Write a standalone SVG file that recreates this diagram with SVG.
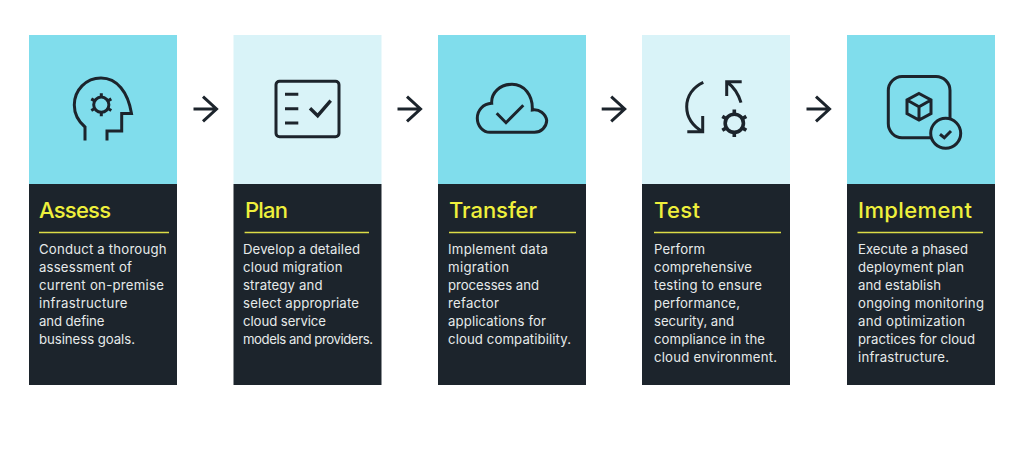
<svg xmlns="http://www.w3.org/2000/svg" width="1024" height="457" viewBox="0 0 1024 457">
<defs>
<g id="gear"><circle r="7.6" class="i"/><path class="i" d="M0-7.6V-11.5M6.6-3.8L10-5.8M6.6 3.8L10 5.8M0 7.6V11.5M-6.6 3.8L-10 5.8M-6.6-3.8L-10-5.8"/></g>
<path id="arrow" class="i" d="M0 0H23M9.5-12.3L23 0L9.5 12.3"/>
</defs>
<style>
.i{fill:none;stroke:#1c242c;stroke-width:3}
.d{fill:#1c242c}.a{fill:#80ddec}.b{fill:#d9f3f8}
.t{font:500 22px Inter,"Liberation Sans",sans-serif;fill:#eff03c}
.p{font:400 13.2px Inter,"Liberation Sans",sans-serif;fill:#e6eaea}
.r{stroke:#dcdc46;stroke-width:1.4}
</style>
<rect width="1024" height="457" fill="#fff"/>
<g id="assess">
<rect class="a" x="29" y="35" width="148" height="149"/><rect class="d" x="29" y="184" width="148" height="201"/>
<path class="i" d="M85 140.5V127C78 121 74.3 113 74.3 105C74.3 90 86 78 101 78C117 78 128 92 131.5 113.5H121.7V131H107V140.5"/>
<use href="#gear" x="101.3" y="104.7"/>
<text class="t" x="39" y="217.5" textLength="72">Assess</text><path class="r" d="M39 232.5H169"/>
<text class="p" x="39" y="254" textLength="127.5">Conduct a thorough</text>
<text class="p" x="39" y="272" textLength="93">assessment of</text>
<text class="p" x="39" y="290" textLength="125">current on-premise</text>
<text class="p" x="39" y="308" textLength="88.5">infrastructure</text>
<text class="p" x="39" y="326" textLength="65.5">and define</text>
<text class="p" x="39" y="344" textLength="96">business goals.</text>
</g>
<g id="plan">
<rect class="b" x="233.5" y="35" width="148" height="149"/><rect class="d" x="233.5" y="184" width="148" height="201"/>
<rect class="i" x="276" y="81.3" width="63" height="55.4" rx="3.5"/>
<path class="i" d="M285 94.3H298.3M285 108.7H298.3M285 123H298.3"/><path class="i" style="stroke-width:3.4" d="M310 108.3L317.7 115.7L330.7 100.7"/>
<text class="t" x="245" y="217.5" textLength="43">Plan</text><path class="r" d="M244.6 232.5H369"/>
<text class="p" x="243" y="254" textLength="117">Develop a detailed</text>
<text class="p" x="243" y="272" textLength="99.5">cloud migration</text>
<text class="p" x="243" y="290" textLength="79.5">strategy and</text>
<text class="p" x="243" y="308" textLength="116">select appropriate</text>
<text class="p" x="243" y="326" textLength="83">cloud service</text>
<text class="p" x="243" y="344" textLength="130">models and providers.</text>
</g>
<g id="transfer">
<rect class="a" x="438" y="35" width="148" height="149"/><rect class="d" x="438" y="184" width="148" height="201"/>
<path class="i" d="M490 132.3H534.5A12.2 12.2 0 0 0 546.7 120.5A12.5 12.5 0 0 0 532.3 110C533 95 524 84.3 512 84.3C500 84.3 491 93 491.7 103.3C483 104 477.3 110 477.3 118.3C477.3 126 483 132.3 490 132.3Z"/>
<path class="i" d="M496.7 113.3L506 122.7L523.3 105.3"/>
<text class="t" x="449" y="217.5" textLength="88">Transfer</text><path class="r" d="M449 232.5H576"/>
<text class="p" x="448" y="254" textLength="100">Implement data</text>
<text class="p" x="448" y="272" textLength="61">migration</text>
<text class="p" x="448" y="290" textLength="91">processes and</text>
<text class="p" x="448" y="308" textLength="51">refactor</text>
<text class="p" x="448" y="326" textLength="98">applications for</text>
<text class="p" x="448" y="344" textLength="123">cloud compatibility.</text>
</g>
<g id="test">
<rect class="b" x="642" y="35" width="148" height="149"/><rect class="d" x="642" y="184" width="148" height="201"/>
<path class="i" d="M703.3 82.3C693 87 686.7 96 686.7 106.7C686.7 117 693 126 702.7 131.7M702.7 116V131.7H687.3"/>
<path class="i" d="M741 102.7C738.5 94 734 87 726.7 81.7M726.7 96V81.7H741.7"/>
<use href="#gear" transform="translate(734.3 123.3) scale(1.2)"/>
<text class="t" x="654" y="217.5" textLength="46">Test</text><path class="r" d="M654 232.5H781"/>
<text class="p" x="654" y="254" textLength="51">Perform</text>
<text class="p" x="654" y="272" textLength="98">comprehensive</text>
<text class="p" x="654" y="290" textLength="108">testing to ensure</text>
<text class="p" x="654" y="308" textLength="86">performance,</text>
<text class="p" x="654" y="326" textLength="80">security, and</text>
<text class="p" x="654" y="344" textLength="111">compliance in the</text>
<text class="p" x="654" y="362" textLength="123">cloud environment.</text>
</g>
<g id="implement">
<rect class="a" x="847" y="35" width="148" height="149"/><rect class="d" x="847" y="184" width="148" height="201"/>
<path class="i" d="M950 118.5V90.5A14 14 0 0 0 936 76.5H902A14 14 0 0 0 888.3 90.5V123.5A14 14 0 0 0 902 137.7H931"/>
<circle class="i" cx="945.7" cy="133.3" r="15"/>
<path class="i" d="M940 134.3L944.3 137.7L951 131"/>
<path class="i" d="M919 93.5L931 100V113.5L919 120L907 113.5V100ZM907 100L919 106.7L931 100M919 106.7V120"/>
<text class="t" x="858" y="217.5" textLength="114">Implement</text><path class="r" d="M857.5 232.5H983"/>
<text class="p" x="858" y="254" textLength="110">Execute a phased</text>
<text class="p" x="858" y="272" textLength="106">deployment plan</text>
<text class="p" x="858" y="290" textLength="83">and establish</text>
<text class="p" x="858" y="308" textLength="126">ongoing monitoring</text>
<text class="p" x="858" y="326" textLength="107">and optimization</text>
<text class="p" x="858" y="344" textLength="117">practices for cloud</text>
<text class="p" x="858" y="362" textLength="91">infrastructure.</text>
</g>
<g id="connectors">
<use href="#arrow" x="193.5" y="109"/><use href="#arrow" x="397.5" y="109"/><use href="#arrow" x="601.7" y="109"/><use href="#arrow" x="806.5" y="109"/>
</g>
</svg>
